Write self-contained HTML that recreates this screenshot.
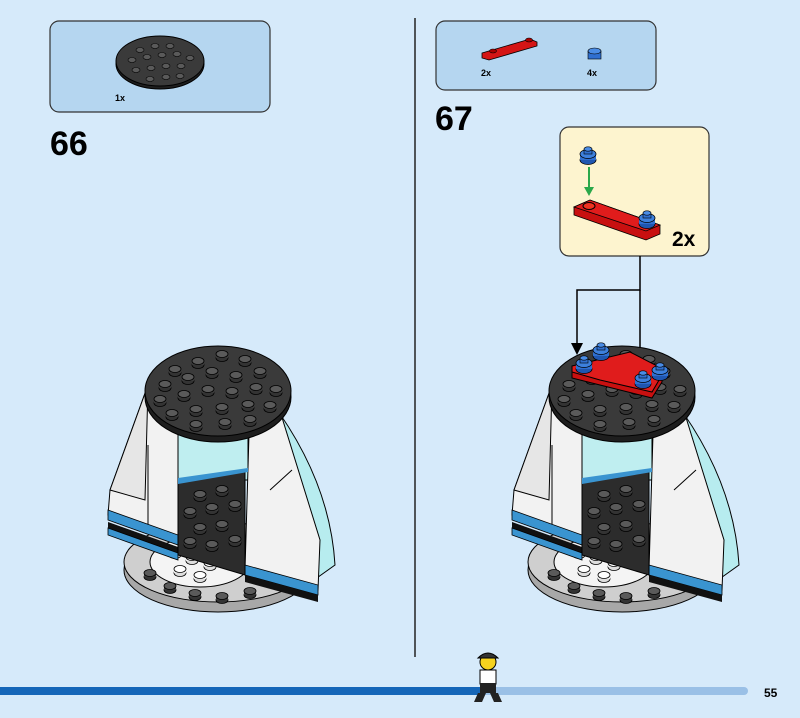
<!DOCTYPE html>
<html><head><meta charset="utf-8"><style>
html,body{margin:0;padding:0;background:#d6eafa;}
svg{display:block;font-family:"Liberation Sans",sans-serif;}
</style></head><body>
<svg width="800" height="718" viewBox="0 0 800 718" xmlns="http://www.w3.org/2000/svg">
<defs>
<g id="stud"><ellipse cx="0" cy="3" rx="6" ry="3.5" fill="#333" stroke="#000" stroke-width="0.8"/><rect x="-6" y="-1" width="12" height="4" fill="#3a3a3a"/><ellipse cx="0" cy="-1" rx="6" ry="3.5" fill="#5a5a5a" stroke="#000" stroke-width="0.8"/></g>
<g id="wstud"><ellipse cx="0" cy="3" rx="6" ry="3.5" fill="#ddd" stroke="#000" stroke-width="0.8"/><rect x="-6" y="-1" width="12" height="4" fill="#eee"/><ellipse cx="0" cy="-1" rx="6" ry="3.5" fill="#fff" stroke="#000" stroke-width="0.8"/></g>
<g id="model">
 <ellipse cx="218" cy="570" rx="94" ry="42" fill="#a8a8a8" stroke="#000"/>
 <ellipse cx="218" cy="562" rx="94" ry="40" fill="#cfcfcf" stroke="#000"/>
 <ellipse cx="200" cy="562" rx="50" ry="25" fill="#f4f4f4" stroke="#000"/>
 <use href="#wstud" x="175" y="552"/><use href="#wstud" x="192" y="558"/><use href="#wstud" x="210" y="564"/><use href="#wstud" x="180" y="570"/><use href="#wstud" x="200" y="576"/>
 <use href="#stud" x="150" y="574"/><use href="#stud" x="170" y="587"/><use href="#stud" x="195" y="594"/><use href="#stud" x="222" y="597"/><use href="#stud" x="250" y="592"/>
 <path d="M270 400 Q330 480 335 565 L300 590 L270 580 Z" fill="#b7ecef" stroke="#000"/>
 <rect x="178" y="420" width="70" height="60" fill="#bfeef0" stroke="#000"/>
 <path d="M148 385 L178 400 L178 540 L108 515 L110 490 Z" fill="#f2f2f2" stroke="#000"/>
 <path d="M148 385 L110 490 L145 500 Z" fill="#e6e6e6" stroke="#000"/>
 <line x1="148" y1="445" x2="148" y2="525" stroke="#000"/>
 <path d="M250 400 L275 395 L320 540 L318 590 L245 570 Z" fill="#f2f2f2" stroke="#000"/>
 <line x1="292" y1="470" x2="270" y2="490" stroke="#000"/>
 <path d="M108 510 L178 535 L178 545 L108 520 Z" fill="#3a94d0" stroke="#000" stroke-width="0.8"/>
 <path d="M108 522 L178 547 L178 553 L108 528 Z" fill="#111"/>
 <path d="M108 528 L178 553 L178 560 L108 535 Z" fill="#3a94d0" stroke="#000" stroke-width="0.8"/>
 <path d="M245 565 L318 585 L318 595 L245 575 Z" fill="#3a94d0" stroke="#000" stroke-width="0.8"/>
 <path d="M245 575 L318 595 L318 602 L245 582 Z" fill="#111"/>
 <path d="M178 482 L245 470 L245 575 L178 555 Z" fill="#2c2c2c" stroke="#000"/>
 <path d="M178 478 L248 468 L248 472 L178 484 Z" fill="#3a94d0"/>
 <use href="#stud" x="200" y="495"/><use href="#stud" x="222" y="490"/><use href="#stud" x="190" y="512"/><use href="#stud" x="212" y="508"/><use href="#stud" x="235" y="505"/><use href="#stud" x="200" y="528"/><use href="#stud" x="222" y="525"/><use href="#stud" x="190" y="542"/><use href="#stud" x="212" y="545"/><use href="#stud" x="235" y="540"/>
 <ellipse cx="218" cy="397" rx="73" ry="45" fill="#1e1e1e" stroke="#000"/>
 <ellipse cx="218" cy="391" rx="73" ry="45" fill="#3a3a3a" stroke="#000"/>
 <use href="#stud" x="175" y="370"/><use href="#stud" x="198" y="362"/><use href="#stud" x="222" y="355"/><use href="#stud" x="245" y="360"/>
 <use href="#stud" x="165" y="385"/><use href="#stud" x="188" y="378"/><use href="#stud" x="212" y="372"/><use href="#stud" x="236" y="376"/><use href="#stud" x="260" y="372"/>
 <use href="#stud" x="160" y="400"/><use href="#stud" x="184" y="395"/><use href="#stud" x="208" y="390"/><use href="#stud" x="232" y="392"/><use href="#stud" x="256" y="388"/><use href="#stud" x="276" y="390"/>
 <use href="#stud" x="172" y="414"/><use href="#stud" x="196" y="410"/><use href="#stud" x="222" y="408"/><use href="#stud" x="248" y="405"/><use href="#stud" x="270" y="406"/>
 <use href="#stud" x="196" y="425"/><use href="#stud" x="225" y="423"/><use href="#stud" x="250" y="420"/>
</g>
<g id="bstud"><ellipse cx="0" cy="4" rx="8" ry="4.5" fill="#1f56b0" stroke="#000" stroke-width="0.8"/><rect x="-8" y="-2" width="16" height="6" fill="#2f6fd0"/><ellipse cx="0" cy="-2" rx="8" ry="4.5" fill="#3d80dd" stroke="#000" stroke-width="0.8"/><rect x="-4" y="-7" width="8" height="5" fill="#2f6fd0" stroke="#000" stroke-width="0.6"/><ellipse cx="0" cy="-7" rx="4" ry="2.2" fill="#4a8ce5" stroke="#000" stroke-width="0.6"/></g>
</defs>
<rect width="800" height="718" fill="#d6eafa"/>
<line x1="415" y1="18" x2="415" y2="657" stroke="#222" stroke-width="1.5"/>
<rect x="50" y="21" width="220" height="91" rx="9" fill="#b5d6f0" stroke="#333" stroke-width="1.2"/>
<ellipse cx="160" cy="64" rx="44" ry="25" fill="#1e1e1e" stroke="#000"/>
<ellipse cx="160" cy="61" rx="44" ry="25" fill="#3a3a3a" stroke="#000"/>
<g fill="#5a5a5a" stroke="#000" stroke-width="0.6">
<ellipse cx="140" cy="50" rx="4" ry="2.5"/><ellipse cx="155" cy="46" rx="4" ry="2.5"/><ellipse cx="170" cy="46" rx="4" ry="2.5"/>
<ellipse cx="132" cy="60" rx="4" ry="2.5"/><ellipse cx="147" cy="57" rx="4" ry="2.5"/><ellipse cx="162" cy="55" rx="4" ry="2.5"/><ellipse cx="177" cy="54" rx="4" ry="2.5"/><ellipse cx="190" cy="58" rx="4" ry="2.5"/>
<ellipse cx="136" cy="70" rx="4" ry="2.5"/><ellipse cx="151" cy="68" rx="4" ry="2.5"/><ellipse cx="166" cy="66" rx="4" ry="2.5"/><ellipse cx="181" cy="66" rx="4" ry="2.5"/>
<ellipse cx="150" cy="79" rx="4" ry="2.5"/><ellipse cx="166" cy="77" rx="4" ry="2.5"/><ellipse cx="180" cy="76" rx="4" ry="2.5"/></g>
<text x="115" y="101" font-size="9" font-weight="bold">1x</text>
<text x="50" y="155" font-size="34" font-weight="bold">66</text>
<rect x="436" y="21" width="220" height="69" rx="9" fill="#b5d6f0" stroke="#333" stroke-width="1.2"/>
<path d="M482 53 L530 39 L537 42 L537 46 L489 60 L482 58 Z" fill="#d41515" stroke="#000" stroke-width="0.8"/>
<ellipse cx="493" cy="51" rx="3.5" ry="2" fill="#a00" stroke="#000" stroke-width="0.6"/><ellipse cx="529" cy="40" rx="3.5" ry="2" fill="#a00" stroke="#000" stroke-width="0.6"/>
<rect x="588" y="51" width="13" height="8" fill="#2f6fd0" stroke="#000" stroke-width="0.6"/><ellipse cx="594.5" cy="51" rx="6.5" ry="3" fill="#4a8ce5" stroke="#000" stroke-width="0.6"/>
<text x="481" y="76" font-size="9" font-weight="bold">2x</text>
<text x="587" y="76" font-size="9" font-weight="bold">4x</text>
<text x="435" y="130" font-size="34" font-weight="bold">67</text>
<rect x="560" y="127" width="149" height="129" rx="9" fill="#fdf4cf" stroke="#333" stroke-width="1.2"/>
<use href="#bstud" x="588" y="156"/>
<line x1="589" y1="167" x2="589" y2="190" stroke="#2aa84a" stroke-width="2"/>
<path d="M584 187 L594 187 L589 196 Z" fill="#2aa84a"/>
<path d="M574 207 L590 200 L660 225 L660 234 L646 240 L574 215 Z" fill="#c81010" stroke="#000" stroke-width="0.8"/>
<path d="M574 207 L646 231 L660 225 L590 200 Z" fill="#e01c1c" stroke="#000" stroke-width="0.8"/>
<ellipse cx="589" cy="206" rx="6" ry="3.5" fill="#e32" stroke="#000"/>
<use href="#bstud" x="647" y="220"/>
<text x="672" y="246" font-size="21" font-weight="bold">2x</text>
<polyline points="640,256 640,290 577,290 577,345" fill="none" stroke="#000" stroke-width="1.5"/>
<line x1="640" y1="290" x2="640" y2="352" stroke="#000" stroke-width="1.5"/>
<path d="M571 343 L583 343 L577 355 Z" fill="#000"/>
<path d="M634 350 L646 350 L640 362 Z" fill="#000"/>
<use href="#model"/>
<use href="#model" x="404"/>
<path d="M572 368 L630 355 L662 372 L662 382 L652 398 L600 385 L572 378 Z" fill="#c81010" stroke="#000"/>
<path d="M572 366 L630 352 L665 370 L652 392 L600 380 L572 372 Z" fill="#e01c1c" stroke="#000"/>
<use href="#bstud" x="584" y="365"/><use href="#bstud" x="601" y="352"/><use href="#bstud" x="643" y="380"/><use href="#bstud" x="660" y="372"/>
<rect x="0" y="687" width="480" height="8" fill="#1566b8"/>
<rect x="480" y="687" width="268" height="8" rx="4" fill="#9ac0e6"/>
<circle cx="488" cy="662" r="8" fill="#f5d21f" stroke="#000"/>
<path d="M478 658 Q488 648 498 658 Z" fill="#333" stroke="#000"/>
<rect x="480" y="670" width="16" height="14" fill="#fff" stroke="#000"/>
<rect x="480" y="683" width="16" height="10" fill="#222"/>
<path d="M478 693 L486 693 L482 702 L474 702 Z M490 693 L498 693 L502 702 L494 702 Z" fill="#222"/>
<text x="764" y="697" font-size="12" font-weight="bold">55</text>
</svg>
</body></html>
